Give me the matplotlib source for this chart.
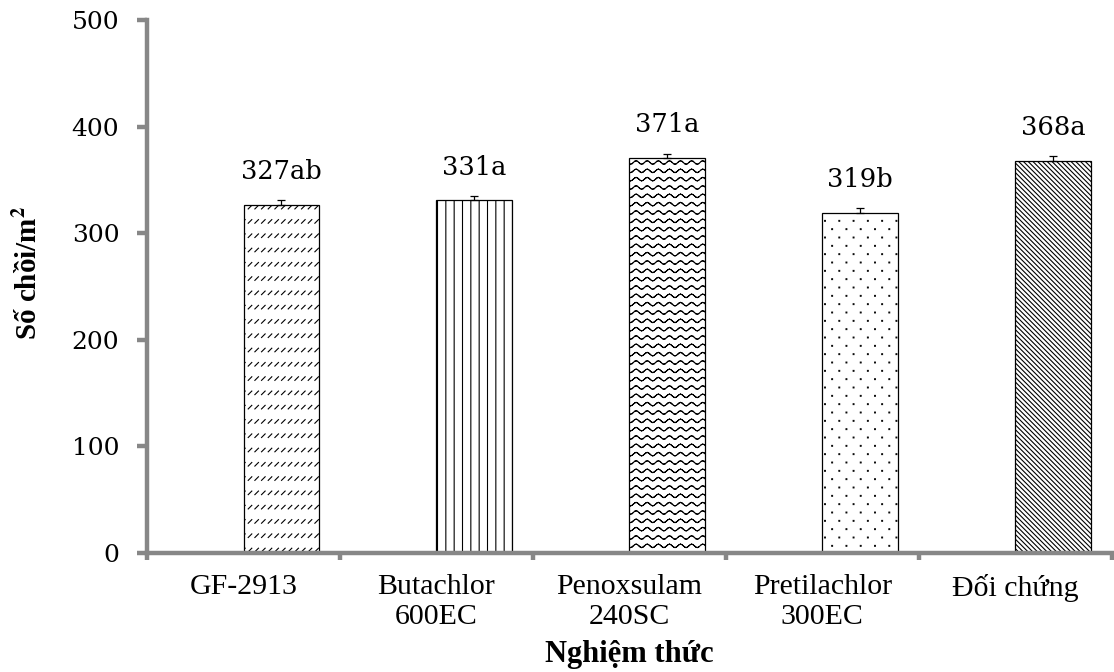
import warnings
import numpy as np
import matplotlib
matplotlib.use("Agg")
import matplotlib.pyplot as plt
import matplotlib.hatch as mhatch
from matplotlib.path import Path
from matplotlib.ticker import FixedLocator, NullFormatter

warnings.filterwarnings("ignore")

treatments = ["GF-2913", "Butachlor\n600EC", "Penoxsulam\n240SC", "Pretilachlor\n300EC", "Đối chứng"]
tillers = [327, 331, 371, 319, 368]
errors = [4, 4.3, 3, 5, 4.7]
letters = ["ab", "a", "a", "b", "a"]
hatches = ["d", "||", "w", "p", "\\" * 7]


# extra hatch textures (excel style): wavy lines, short dashes, small dots
class WaveHatch(mhatch.HatchPatternBase):
    def __init__(self, hatch, density):
        self.rows, self.periods, self.steps = 12, 9, 8
        n = self.periods * self.steps
        self.num_vertices = 2 * self.rows * n if "w" in hatch else 0

    def set_vertices_and_codes(self, vertices, codes):
        n = self.periods * self.steps
        x = np.linspace(0, 1, n + 1)
        k = 0
        for r in range(self.rows):
            y = (r + 0.5) / self.rows + 0.017 * np.sin(2 * np.pi * self.periods * x)
            for j in range(n):
                vertices[k] = (x[j], y[j])
                vertices[k + 1] = (x[j + 1], y[j + 1])
                codes[k] = Path.MOVETO
                codes[k + 1] = Path.LINETO
                k += 2


class DashHatch(mhatch.HatchPatternBase):
    def __init__(self, hatch, density):
        self.rows, self.cols = 7, 15
        self.num_vertices = 2 * self.rows * self.cols if "d" in hatch else 0

    def set_vertices_and_codes(self, vertices, codes):
        k = 0
        for r in range(self.rows):
            for c in range(self.cols):
                cx = (c + 0.5) / self.cols
                cy = (r + 0.5) / self.rows
                vertices[k] = (cx - 0.018, cy - 0.018)
                vertices[k + 1] = (cx + 0.018, cy + 0.018)
                codes[k] = Path.MOVETO
                codes[k + 1] = Path.LINETO
                k += 2


class DotHatch(mhatch.HatchPatternBase):
    def __init__(self, hatch, density):
        self.rows, self.cols = 12, 7
        self.num_vertices = 5 * self.rows * self.cols if "p" in hatch else 0

    def set_vertices_and_codes(self, vertices, codes):
        k = 0
        s = 0.004
        for r in range(self.rows):
            for c in range(self.cols):
                cx = (c + 0.25 + 0.5 * (r % 2)) / self.cols
                cy = (r + 0.5) / self.rows
                vertices[k:k + 5] = [(cx - s, cy - s), (cx + s, cy - s),
                                     (cx + s, cy + s), (cx - s, cy + s),
                                     (cx - s, cy - s)]
                codes[k:k + 5] = [Path.MOVETO, Path.LINETO, Path.LINETO,
                                  Path.LINETO, Path.CLOSEPOLY]
                k += 5


mhatch._hatch_types.extend([WaveHatch, DashHatch, DotHatch])

plt.rcParams["hatch.linewidth"] = 0.8
plt.rcParams["mathtext.fontset"] = "stix"
axis_grey = "#878787"

fig = plt.figure(figsize=(11.14, 6.72), dpi=100)
ax = fig.add_axes([0.132, 0.177, 0.866, 0.793])

x = np.arange(len(treatments))
width = 0.39
ax.bar(x, tillers, width=width, align="edge", color="white",
       edgecolor="black", linewidth=0.9, zorder=2)
for b, h in zip(ax.patches, hatches):
    b.set_hatch(h)

# only the upper half of the error bar shows above the bar
ax.errorbar(x + width / 2, tillers, yerr=[np.zeros(len(errors)), errors],
            fmt="none", ecolor="black", elinewidth=0.9, capsize=3,
            capthick=0.9, zorder=3)

for xi, v, l in zip(x, tillers, letters):
    ax.text(xi + width / 2, v + 24, f"{v}{l}", ha="center", va="baseline",
            fontsize=18.5, family="DejaVu Serif")

ax.set_xlim(-0.5, 4.5)
ax.set_ylim(0, 500)
ax.set_yticks(range(0, 501, 100))

ax.xaxis.set_major_locator(FixedLocator(np.arange(-0.5, 4.6, 1)))
ax.xaxis.set_major_formatter(NullFormatter())
ax.xaxis.set_minor_locator(FixedLocator(x))
ax.set_xticklabels(treatments, minor=True, family="Liberation Serif",
                   fontsize=21.5, linespacing=1.2)

for s in ["top", "right"]:
    ax.spines[s].set_visible(False)
for s in ["left", "bottom"]:
    ax.spines[s].set_color(axis_grey)
    ax.spines[s].set_linewidth(3.2)

ax.tick_params(axis="y", which="major", direction="out", length=7, width=3.2,
               color=axis_grey, pad=13, labelsize=18)
for t in ax.get_yticklabels():
    t.set_family("DejaVu Serif")
ax.tick_params(axis="x", which="major", direction="out", length=5, width=3.2,
               color=axis_grey)
ax.tick_params(axis="x", which="minor", length=0, pad=15)

ax.set_xlabel("Nghiệm thức", family="Liberation Serif", fontweight="bold", fontsize=22)
ax.set_ylabel(r"Số chồi/m$^{\mathbf{2}}$", family="Liberation Serif",
              fontweight="bold", fontsize=21)
ax.xaxis.set_label_coords(0.5, -0.163)
ax.yaxis.set_label_coords(-0.108, 0.525)

fig.savefig("out.png", dpi=100)
